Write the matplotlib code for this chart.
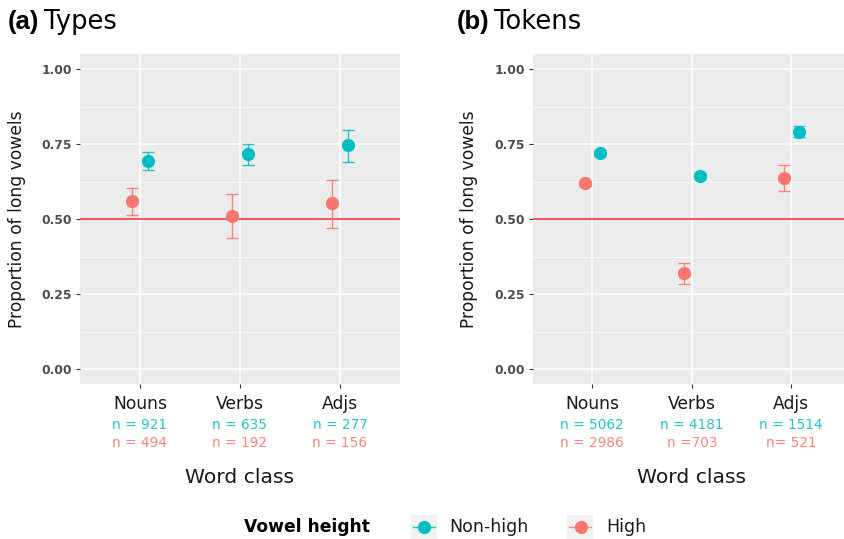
import matplotlib
matplotlib.use("Agg")
import matplotlib.pyplot as plt
from matplotlib.lines import Line2D
from matplotlib.patches import Rectangle
import numpy as np

# ---------------- data ----------------
categories = ["Nouns", "Verbs", "Adjs"]

types_nonhigh = [0.694, 0.716, 0.747]
types_nonhigh_lo = [0.663, 0.680, 0.691]
types_nonhigh_hi = [0.724, 0.750, 0.797]
types_high = [0.559, 0.509, 0.552]
types_high_lo = [0.513, 0.437, 0.469]
types_high_hi = [0.602, 0.583, 0.630]

tokens_nonhigh = [0.719, 0.643, 0.790]
tokens_nonhigh_lo = [0.710, 0.634, 0.773]
tokens_nonhigh_hi = [0.728, 0.652, 0.810]
tokens_high = [0.619, 0.319, 0.638]
tokens_high_lo = [0.610, 0.283, 0.594]
tokens_high_hi = [0.628, 0.355, 0.679]

types_n_nonhigh = ["n = 921", "n = 635", "n = 277"]
types_n_high = ["n = 494", "n = 192", "n = 156"]
tokens_n_nonhigh = ["n = 5062", "n = 4181", "n = 1514"]
tokens_n_high = ["n = 2986", "n =703", "n= 521"]

yticks = [0.0, 0.25, 0.5, 0.75, 1.0]
yticklabels = ["0.00", "0.25", "0.50", "0.75", "1.00"]
reference = 0.5

# ---------------- style ----------------
W, H = 845, 539
C_NON = "#00BFC4"
C_HIGH = "#F8766D"
BG = "#EBEBEB"
DODGE_HIGH, DODGE_NON = -0.075, 0.08

fig = plt.figure(figsize=(W / 100, H / 100), dpi=100)


def fx(px):
    return px / W


def fy(py):
    return 1 - py / H


def make_panel(left_px, right_px, nonhigh, nh_lo, nh_hi, high, h_lo, h_hi,
               n_non, n_high, ylab_x, letter, title, letter_x, title_x):
    top_px, bot_px = 54, 384
    ax = fig.add_axes([fx(left_px), fy(bot_px), fx(right_px - left_px),
                       (bot_px - top_px) / H])
    ax.set_facecolor(BG)
    for s in ax.spines.values():
        s.set_visible(False)
    ax.set_xlim(0.4, 3.6)
    ax.set_ylim(-0.05, 1.05)
    x = np.arange(1, len(categories) + 1)
    ax.set_xticks(x)
    ax.set_xticklabels([])
    ax.set_yticks(yticks)
    ax.set_yticklabels(yticklabels, fontfamily="DejaVu Sans",
                       fontweight="bold", fontsize=8.9, color="#4D4D4D")
    ax.set_yticks([0.125, 0.375, 0.625, 0.875], minor=True)
    ax.tick_params(axis="both", which="major", length=3, width=0.8,
                   color="#333333", pad=2.5)
    ax.tick_params(axis="y", which="minor", length=0)
    ax.grid(True, which="major", color="white", lw=1.1)
    ax.grid(True, which="minor", axis="y", color="white", lw=0.55)
    ax.set_axisbelow(True)

    ax.axhline(reference, color="#F24A4A", lw=1.3, zorder=2)

    for xs, vals, lo, hi, col in [
        (x + DODGE_HIGH, high, h_lo, h_hi, C_HIGH),
        (x + DODGE_NON, nonhigh, nh_lo, nh_hi, C_NON),
    ]:
        vals = np.array(vals)
        err = np.vstack([vals - np.array(lo), np.array(hi) - vals])
        ax.errorbar(xs, vals, yerr=err, fmt="none", ecolor=col, elinewidth=1.0,
                    capsize=4, capthick=1.0, alpha=0.85, zorder=3)
        ax.plot(xs, vals, "o", color=col, ms=9.5, mec="none", zorder=4)

    # category labels with n-counts
    for xi, cat, a, b in zip(x, categories, n_non, n_high):
        for txt, dy, col, fs in [(cat, 25.3, "#1A1A1A", 12.3),
                                 (a, 45.3, "#22C5C9", 9.8),
                                 (b, 63.3, "#F8857D", 9.8)]:
            ax.annotate(txt, xy=(xi, 0), xycoords=("data", "axes fraction"),
                        xytext=(0, -dy), textcoords="offset pixels",
                        ha="center", va="baseline", fontsize=fs, color=col,
                        fontfamily="DejaVu Sans")

    cx = (left_px + right_px) / 2
    fig.text(fx(cx), fy(482.7), "Word class", ha="center", va="baseline",
             fontsize=14.6, color="#1A1A1A", fontfamily="DejaVu Sans")
    fig.text(fx(ylab_x), fy((top_px + bot_px) / 2), "Proportion of long vowels",
             rotation=90, ha="center", va="center", fontsize=12.3,
             color="#1A1A1A", fontfamily="DejaVu Sans")
    fig.text(fx(letter_x), fy(29), letter, ha="left", va="baseline",
             fontsize=18.5, fontweight="bold", fontfamily="Liberation Sans",
             color="black")
    fig.text(fx(title_x), fy(29), title, ha="left", va="baseline",
             fontsize=18.5, fontfamily="DejaVu Sans", color="black")
    return ax


make_panel(80, 400, types_nonhigh, types_nonhigh_lo, types_nonhigh_hi,
           types_high, types_high_lo, types_high_hi,
           types_n_nonhigh, types_n_high, 17, "(a)", "Types", 7.5, 44)
make_panel(532.6, 851, tokens_nonhigh, tokens_nonhigh_lo, tokens_nonhigh_hi,
           tokens_high, tokens_high_lo, tokens_high_hi,
           tokens_n_nonhigh, tokens_n_high, 469, "(b)", "Tokens", 457, 494)

# ---------------- legend ----------------
ly = 527
fig.text(fx(244), fy(ly), "Vowel height", ha="left", va="center",
         fontsize=12.3, fontweight="bold", fontfamily="DejaVu Sans", color="black")
for kx, col, lab, tx in [(411, C_NON, "Non-high", 449), (567.5, C_HIGH, "High", 606)]:
    fig.patches.append(Rectangle((fx(kx), fy(ly + 12.5)), fx(26), 25 / H,
                                 transform=fig.transFigure, facecolor="#F2F2F2",
                                 edgecolor="none", zorder=1))
    fig.lines.append(Line2D([fx(kx + 2), fx(kx + 24)], [fy(ly), fy(ly)],
                            transform=fig.transFigure, color=col, lw=1.0,
                            alpha=0.85, zorder=2))
    fig.lines.append(Line2D([fx(kx + 13)], [fy(ly)], transform=fig.transFigure,
                            marker="o", color=col, ms=9.5, mec="none", zorder=3))
    fig.text(fx(tx), fy(ly), lab, ha="left", va="center", fontsize=12.5,
             fontfamily="DejaVu Sans", color="#1A1A1A")

fig.savefig("out.png", dpi=100)
